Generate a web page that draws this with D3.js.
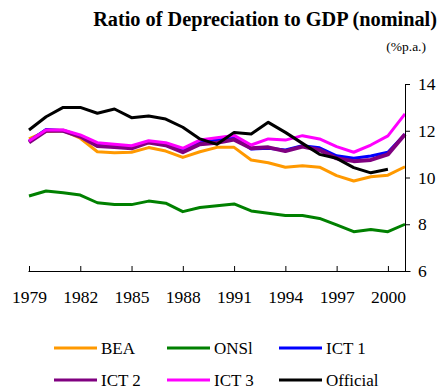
<!DOCTYPE html>
<html>
<head>
<meta charset="utf-8">
<script src="https://cdn.jsdelivr.net/npm/d3@7"></script>
<style>
  html, body { margin: 0; padding: 0; background: #fff; }
  svg { display: block; font-family: "Liberation Serif", "Times New Roman", serif; }
</style>
</head>
<body>
<svg id="chart" width="443" height="389"></svg>
<script>
// Years covered by the series (1979-2001)
const years = d3.range(1979, 2002);
const tickYears = [1979, 1982, 1985, 1988, 1991, 1994, 1997, 2000];
const yTicks = [6, 8, 10, 12, 14];

// Ratio of depreciation to nominal GDP, % p.a.
const bea      = [11.65, 11.97, 12.0, 11.68, 11.1, 11.06, 11.08, 11.28, 11.13, 10.86, 11.1, 11.29, 11.29, 10.75, 10.63, 10.44, 10.5, 10.44, 10.08, 9.85, 10.03, 10.1, 10.46];
const onsl     = [9.21, 9.42, 9.35, 9.25, 8.92, 8.84, 8.84, 8.99, 8.9, 8.54, 8.72, 8.79, 8.87, 8.57, 8.47, 8.37, 8.37, 8.25, 7.97, 7.68, 7.78, 7.68, 8.0];
const ict1     = [11.55, 12.05, 12.0, 11.78, 11.38, 11.32, 11.27, 11.52, 11.4, 11.17, 11.5, 11.6, 11.72, 11.22, 11.25, 11.18, 11.36, 11.27, 10.93, 10.82, 10.92, 11.08, 11.85];
const ict2     = [11.5, 12.0, 12.0, 11.75, 11.35, 11.3, 11.25, 11.5, 11.38, 11.08, 11.42, 11.49, 11.62, 11.25, 11.29, 11.13, 11.32, 11.18, 10.82, 10.7, 10.75, 10.99, 11.85];
const ict3     = [11.56, 12.03, 12.03, 11.82, 11.49, 11.42, 11.36, 11.57, 11.49, 11.25, 11.6, 11.7, 11.8, 11.39, 11.65, 11.6, 11.79, 11.65, 11.32, 11.08, 11.39, 11.78, 12.72];
const official = [12.03, 12.6, 13.0, 13.0, 12.75, 12.93, 12.56, 12.63, 12.5, 12.15, 11.65, 11.42, 11.93, 11.86, 12.36, 11.93, 11.46, 10.99, 10.82, 10.42, 10.2, 10.35];

const seriesNames = ["BEA", "ONSl", "ICT 1", "ICT 2", "ICT 3", "Official"];
const seriesValues = [bea, onsl, ict1, ict2, ict3, official];
const seriesColors = ["#FF9900", "#008000", "#0000FF", "#800080", "#FF00FF", "#000000"];
const seriesWidths = [3, 3, 3, 4, 3, 3];

const svg = d3.select("#chart");

const x = d3.scaleLinear().domain([1979, 2001]).range([29, 405]);
const y = d3.scaleLinear().domain([6, 14]).range([271, 84]);

// Title
svg.append("text")
  .attr("x", 437).attr("y", 26)
  .attr("text-anchor", "end")
  .attr("font-weight", "bold")
  .attr("font-size", 20.3)
  .text("Ratio of Depreciation to GDP (nominal)");
svg.append("text")
  .attr("x", 426).attr("y", 51)
  .attr("text-anchor", "end")
  .attr("font-size", 13.5)
  .text("(%p.a.)");

// Lines
const line = d3.line()
  .x((d, i) => x(years[i]))
  .y(d => y(d));

svg.append("g")
  .selectAll("path")
  .data(seriesValues)
  .join("path")
  .attr("fill", "none")
  .attr("stroke", (d, i) => seriesColors[i])
  .attr("stroke-width", (d, i) => seriesWidths[i])
  .attr("stroke-linejoin", "round")
  .attr("d", line);

// X axis: ticks point upward, labels below
const xAxisScale = x.copy().range([x(1979) - 1, x(2001) + 5]).domain([x.invert(x(1979) - 1), x.invert(x(2001) + 5)]);
const xAxis = svg.append("g")
  .attr("transform", `translate(0,${y(6)})`)
  .call(d3.axisBottom(xAxisScale)
    .tickValues(tickYears)
    .tickFormat(d3.format("d"))
    .tickSize(-5)
    .tickSizeOuter(0)
    .tickPadding(20));
xAxis.attr("font-family", null);
xAxis.selectAll("text").attr("font-size", 17.5).attr("fill", "#000");
xAxis.selectAll("line, path").attr("stroke", "#000");

// Y axis on the right
const yAxis = svg.append("g")
  .attr("transform", `translate(${x(2001)},0)`)
  .call(d3.axisRight(y)
    .tickValues(yTicks)
    .tickSize(5)
    .tickSizeOuter(0)
    .tickPadding(8));
yAxis.attr("font-family", null);
yAxis.selectAll("text").attr("font-size", 17.5).attr("fill", "#000");
yAxis.selectAll("line, path").attr("stroke", "#000");

// Legend: two rows of three
const legendCols = [54, 167, 279];
const legendRows = [348, 380];
const legend = svg.append("g")
  .selectAll("g")
  .data(seriesNames)
  .join("g")
  .attr("transform", (d, i) => `translate(${legendCols[i % 3]},${legendRows[Math.floor(i / 3)]})`);
legend.append("line")
  .attr("x1", 0).attr("x2", 43)
  .attr("stroke", (d, i) => seriesColors[i])
  .attr("stroke-width", 3);
legend.append("text")
  .attr("x", 47).attr("y", 5.5)
  .attr("font-size", 17)
  .text(d => d);
</script>
</body>
</html>
